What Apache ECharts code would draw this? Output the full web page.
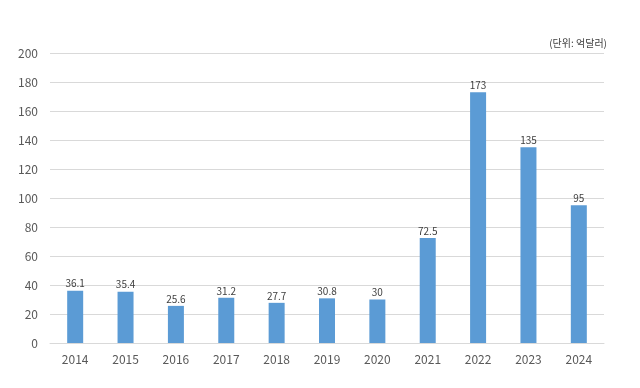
<!DOCTYPE html>
<html><head><meta charset="utf-8">
<script src="https://cdn.jsdelivr.net/npm/echarts@6/dist/echarts.min.js"></script>
<style>html,body{margin:0;padding:0;background:#fff}#c{width:640px;height:388px}</style>
</head><body><div id="c"></div>
<script>
const categories = ['2014','2015','2016','2017','2018','2019','2020','2021','2022','2023','2024'];
const values = [36.1, 35.4, 25.6, 31.2, 27.7, 30.8, 30, 72.5, 173, 135, 95];
const unitText = '(단위: 억달러)';
const chart = echarts.init(document.getElementById('c'), null, {renderer:'canvas'});
const font = '"Noto Sans CJK KR", "Noto Sans", sans-serif';
chart.setOption({
  animation:false,
  textStyle:{fontFamily:font},
  grid:{left:50, right:36, top:53, bottom:45, containLabel:false},
  graphic:[{type:'text', right:33, top:38, style:{text:unitText, fill:'#404040', font:'10px '+font}}],
  xAxis:{type:'category', data:categories,
    axisLine:{show:true, lineStyle:{color:'#d9d9d9'}}, axisTick:{show:false},
    axisLabel:{color:'#595959', fontSize:12, margin:10, fontFamily:font}},
  yAxis:{type:'value', min:0, max:200, interval:20,
    axisLine:{show:false}, axisTick:{show:false},
    splitLine:{lineStyle:{color:'#d9d9d9'}},
    axisLabel:{color:'#595959', fontSize:12, margin:12, fontFamily:font}},
  series:[{type:'bar', data:values, barWidth:16,
    itemStyle:{color:'#5B9BD5'},
    label:{show:true, position:'top', distance:2, color:'#404040', fontSize:10, fontFamily:font}}]
});
</script></body></html>
